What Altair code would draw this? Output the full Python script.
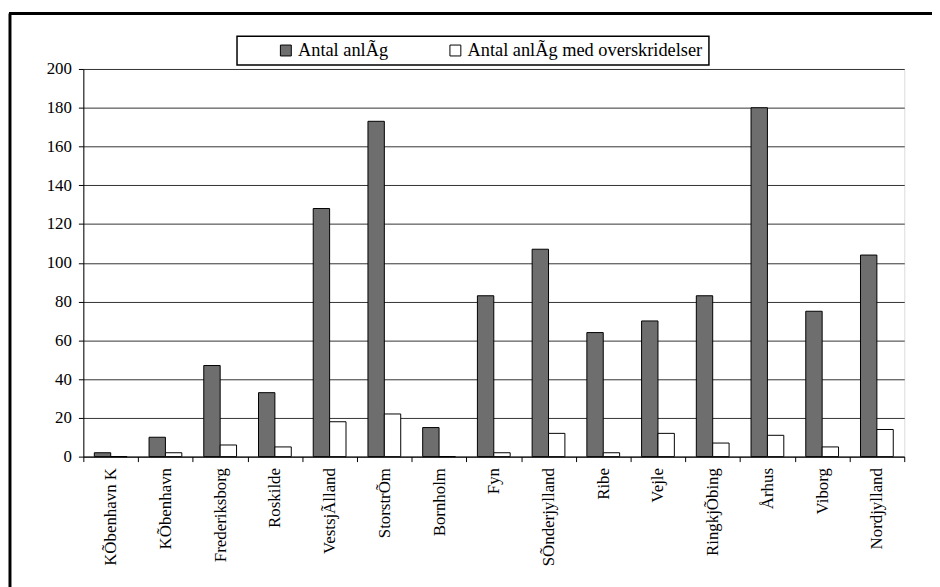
import altair as alt
import pandas as pd

regions = ["KÕbenhavn K", "KÕbenhavn", "Frederiksborg", "Roskilde", "VestsjÃlland",
           "StorstrÕm", "Bornholm", "Fyn", "SÕnderjylland", "Ribe", "Vejle",
           "RingkjÕbing", "Århus", "Viborg", "Nordjylland"]
series = ["Antal anlÃg", "Antal anlÃg med overskridelser"]
antal = [2, 10, 47, 33, 128, 173, 15, 83, 107, 64, 70, 83, 180, 75, 104]
overskridelser = [0, 2, 6, 5, 18, 22, 0, 2, 12, 2, 12, 7, 11, 5, 14]
y_ticks = list(range(0, 201, 20))

rows = []
for r, a, o in zip(regions, antal, overskridelser):
    rows.append({"region": r, "series": series[0], "value": a})
    rows.append({"region": r, "series": series[1], "value": o})
df = pd.DataFrame(rows)

FONT = "Liberation Serif"

bars = alt.Chart(df).mark_bar(stroke="black", strokeWidth=1).encode(
    x=alt.X("region:N", sort=regions,
            scale=alt.Scale(paddingInner=0, paddingOuter=0),
            axis=alt.Axis(title=None, labelAngle=-90, tickBand="extent",
                          tickSize=5, labelPadding=6, labelFontSize=17,
                          labelFont=FONT, labelColor="black", labelLimit=300,
                          domainColor="black", tickColor="black", grid=False)),
    xOffset=alt.XOffset("series:N", sort=series,
                        scale=alt.Scale(paddingOuter=0.67, paddingInner=0)),
    y=alt.Y("value:Q", scale=alt.Scale(domain=[0, 200], nice=False),
            axis=alt.Axis(title=None, values=y_ticks, tickSize=5, labelPadding=7,
                          labelFontSize=17, labelFont=FONT, labelColor="black",
                          domainColor="black", tickColor="black",
                          grid=True, gridColor="#333333", gridWidth=1)),
    fill=alt.Fill("series:N", sort=series,
                  scale=alt.Scale(domain=series, range=["#6e6e6e", "#ffffff"]),
                  legend=alt.Legend(orient="none", legendX=195, legendY=-28,
                                    direction="horizontal", title=None,
                                    padding=0, symbolType="square", symbolSize=121,
                                    symbolStrokeColor="black", symbolStrokeWidth=1,
                                    labelFontSize=18.5, labelFont=FONT,
                                    labelColor="black", labelOffset=3,
                                    labelLimit=400, columnPadding=58)),
)

frame = alt.Chart(alt.Data(values=[{}]))
left_border = frame.mark_rule(color="black", strokeWidth=3).encode(
    x=alt.value(-74), y=alt.value(-56), y2=alt.value(540))
top_border = frame.mark_rule(color="black", strokeWidth=3).encode(
    x=alt.value(-75), x2=alt.value(860), y=alt.value(-56))
legend_box = frame.mark_rect(fill="white", stroke="black", strokeWidth=1.5).encode(
    x=alt.value(155), x2=alt.value(631), y=alt.value(-33), y2=alt.value(-4))

chart = alt.layer(legend_box, bars, left_border, top_border).properties(
    width=828, height=391,
    padding={"left": 76, "top": 59, "right": 28, "bottom": 129},
    autosize=alt.AutoSizeParams(type="none"),
).configure_view(stroke="#888888").configure(font=FONT, background="white")

chart.save("out.html", embed_options={"renderer": "svg", "actions": False})
